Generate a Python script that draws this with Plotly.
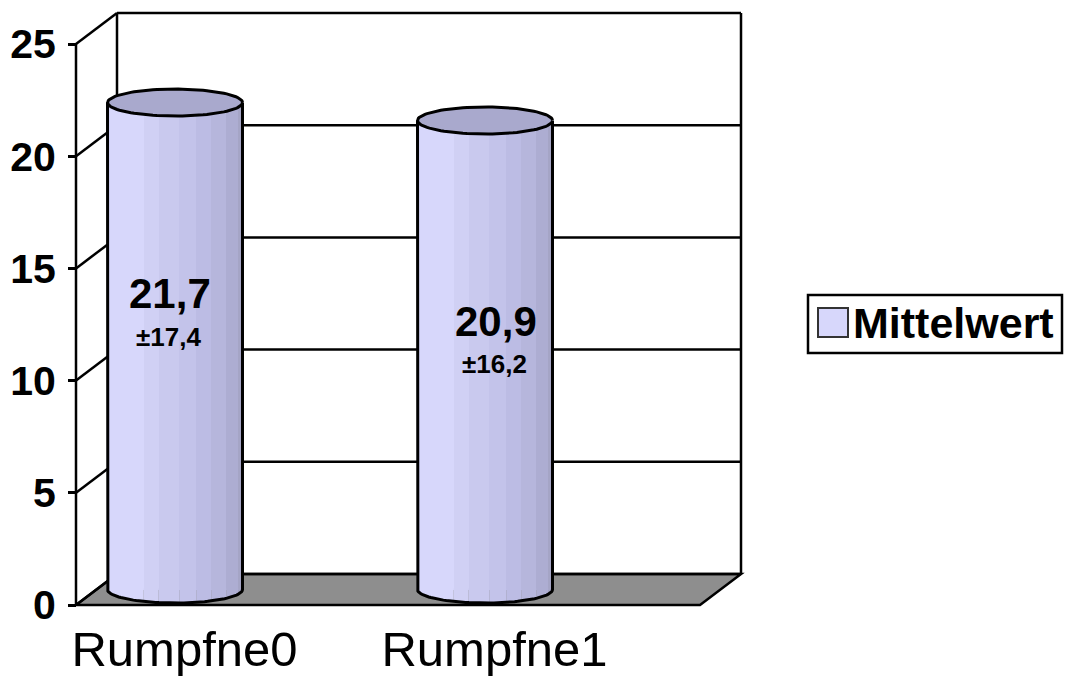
import numpy as np
import plotly.graph_objects as go

# ---------------- data ----------------
categories = ["Rumpfne0", "Rumpfne1"]
means = [21.7, 20.9]
sds = [17.4, 16.2]
mean_labels = ["21,7", "20,9"]
sd_labels = ["±17,4", "±16,2"]
y_ticks = [0, 5, 10, 15, 20, 25]
series_name = "Mittelwert"

# ---------------- geometry / style ----------------
W, H = 1065, 681
PL, PR, PT, PB = 66, 750, 8, 612          # plot area in px
PX_X = 310.0                               # px per category step
PX_Y = 22.44                               # px per value unit
X0_PX = 154.5                              # px of category 0 on front plane
Y0_PX = 605.0                              # px of value 0 on front plane
DX = 41.0 / PX_X                           # depth offset (x units)
DY = 31.0 / PX_Y                           # depth offset (y units)
DXM, DYM = DX / 2, DY / 2                  # mid plane offset
R = 67.5 / PX_X                            # cylinder half width
B = 13.5 / PX_Y                            # ellipse half height
U_FRONT = (76 - X0_PX) / PX_X
U_FRONT_RIGHT = (700 - X0_PX) / PX_X
U_BACK = U_FRONT + DX
U_BACK_RIGHT = U_FRONT_RIGHT + DX
YMAX = y_ticks[-1]

x_range = [(PL - X0_PX) / PX_X, (PR - X0_PX) / PX_X]
y_range = [(Y0_PX - PB) / PX_Y, (Y0_PX - PT) / PX_Y]

FONT = "Liberation Sans, Arial, sans-serif"
LINE_W = 2.5
CYL_W = 3
stripe_edges = [0, 0.267, 0.378, 0.533, 0.659, 0.770, 0.881, 0.970, 1.0]
stripe_colors = ["#d7d7fb", "#d0d0f4", "#c9c9ee", "#c3c3ea",
                 "#bcbce4", "#b6b6dc", "#adadd2", "#a5a5c6"]
top_color = "#a9a9cd"
floor_color = "#8e8e8e"
label_frac = [0.605, 0.57]
label_xshift = [-5, 11]


def pxx(px):
    return (px - PL) / (PR - PL)


def pxy(py):
    return (PB - py) / (PB - PT)


fig = go.Figure()

centers = [i + DXM for i in range(len(categories))]

# cylinder body stripes (bars)
for k, col in enumerate(stripe_colors):
    f0, f1 = stripe_edges[k], stripe_edges[k + 1]
    fig.add_trace(go.Bar(
        x=centers, y=means, base=[DYM] * len(means),
        offset=-R + f0 * 2 * R, width=(f1 - f0) * 2 * R,
        marker=dict(color=col, line=dict(width=0)),
        showlegend=False, hoverinfo="skip", name=series_name))
    # bottom cap of stripe following the ellipse
    for c in centers:
        xs = np.linspace(c - R + f0 * 2 * R, c - R + f1 * 2 * R, 12)
        ys = DYM - B * np.sqrt(np.clip(1 - ((xs - c) / R) ** 2, 0, 1))
        px_ = np.concatenate([[xs[0]], xs, [xs[-1]]])
        py_ = np.concatenate([[DYM + 0.05], ys, [DYM + 0.05]])
        fig.add_trace(go.Scatter(x=px_, y=py_, fill="toself", fillcolor=col,
                                 mode="none", showlegend=False, hoverinfo="skip"))

# outlines and top ellipses
t_bot = np.linspace(np.pi, 2 * np.pi, 60)
t_all = np.linspace(0, 2 * np.pi, 100)
for c, v in zip(centers, means):
    top = v + DYM
    ox = np.concatenate([[c - R], c + R * np.cos(t_bot), [c + R]])
    oy = np.concatenate([[top], DYM + B * np.sin(t_bot), [top]])
    fig.add_trace(go.Scatter(x=ox, y=oy, mode="lines",
                             line=dict(color="black", width=CYL_W),
                             showlegend=False, hoverinfo="skip"))
    fig.add_trace(go.Scatter(x=c + R * np.cos(t_all), y=top + B * np.sin(t_all),
                             mode="lines", fill="toself", fillcolor=top_color,
                             line=dict(color="black", width=CYL_W),
                             showlegend=False, hoverinfo="skip"))

# ---------------- walls, floor, gridlines (shapes) ----------------
shapes = []
line = dict(color="black", width=LINE_W)
# floor
shapes.append(dict(type="path", xref="x", yref="y", layer="below",
                   path=f"M{U_FRONT},0 L{U_FRONT_RIGHT},0 L{U_BACK_RIGHT},{DY} L{U_BACK},{DY} Z",
                   fillcolor=floor_color, line=line))
# back wall gridlines and side-wall diagonals
for v in y_ticks:
    shapes.append(dict(type="line", xref="x", yref="y", layer="below",
                       x0=U_BACK, x1=U_BACK_RIGHT, y0=v + DY, y1=v + DY, line=line))
    shapes.append(dict(type="line", xref="x", yref="y", layer="below",
                       x0=U_FRONT, x1=U_BACK, y0=v, y1=v + DY, line=line))
# back wall verticals
for u in (U_BACK, U_BACK_RIGHT):
    shapes.append(dict(type="line", xref="x", yref="y", layer="below",
                       x0=u, x1=u, y0=DY, y1=YMAX + DY, line=line))
# front value axis
shapes.append(dict(type="line", xref="x", yref="y", layer="below",
                   x0=U_FRONT, x1=U_FRONT, y0=0, y1=YMAX, line=line))

# legend box (manual)
shapes.append(dict(type="rect", xref="paper", yref="paper",
                   x0=pxx(808), x1=pxx(1062), y0=pxy(353), y1=pxy(295),
                   line=dict(color="black", width=2.5), fillcolor="white"))
shapes.append(dict(type="rect", xref="paper", yref="paper",
                   x0=pxx(818), x1=pxx(848), y0=pxy(337), y1=pxy(308),
                   line=dict(color="#333333", width=2), fillcolor=stripe_colors[0]))

annotations = [dict(xref="paper", yref="paper", x=pxx(851), y=pxy(323),
                    xanchor="left", yanchor="middle", showarrow=False,
                    text=f"<b>{series_name}</b>",
                    font=dict(family=FONT, size=43, color="black"))]

for i, (c, v) in enumerate(zip(centers, means)):
    ly = v * label_frac[i] + DYM
    annotations.append(dict(x=c, y=ly, xref="x", yref="y", showarrow=False,
                            xshift=label_xshift[i], yshift=1, yanchor="middle",
                            text=f"<b>{mean_labels[i]}</b>",
                            font=dict(family=FONT, size=42, color="black")))
    annotations.append(dict(x=c, y=ly, xref="x", yref="y", showarrow=False,
                            xshift=label_xshift[i] - 2, yshift=-42, yanchor="middle",
                            text=f"<b>{sd_labels[i]}</b>",
                            font=dict(family=FONT, size=26, color="black")))

fig.update_layout(
    width=W, height=H,
    margin=dict(l=PL, r=W - PR, t=PT, b=H - PB, pad=0, autoexpand=False),
    paper_bgcolor="white", plot_bgcolor="rgba(0,0,0,0)",
    barmode="overlay", bargap=0,
    showlegend=False,
    shapes=shapes, annotations=annotations,
    xaxis=dict(range=x_range, showgrid=False, zeroline=False, showline=False,
               automargin=False,
               tickvals=list(range(len(categories))), ticktext=categories,
               ticks="", ticklabelshift=30, ticklabelstandoff=4,
               tickfont=dict(family=FONT, size=49, color="black")),
    yaxis=dict(range=y_range, showgrid=False, zeroline=False, showline=False,
               automargin=False,
               anchor="free", position=pxx(76),
               tickvals=y_ticks, ticktext=[str(t) for t in y_ticks],
               ticks="outside", ticklen=8, tickwidth=LINE_W, tickcolor="black",
               ticklabelstandoff=4,
               tickfont=dict(family=FONT, size=41, color="black", weight="bold")),
)

fig.write_html("out.html",
               config={"displayModeBar": False},
               post_script="document.body.style.margin='0px';document.body.style.overflow='hidden';")
